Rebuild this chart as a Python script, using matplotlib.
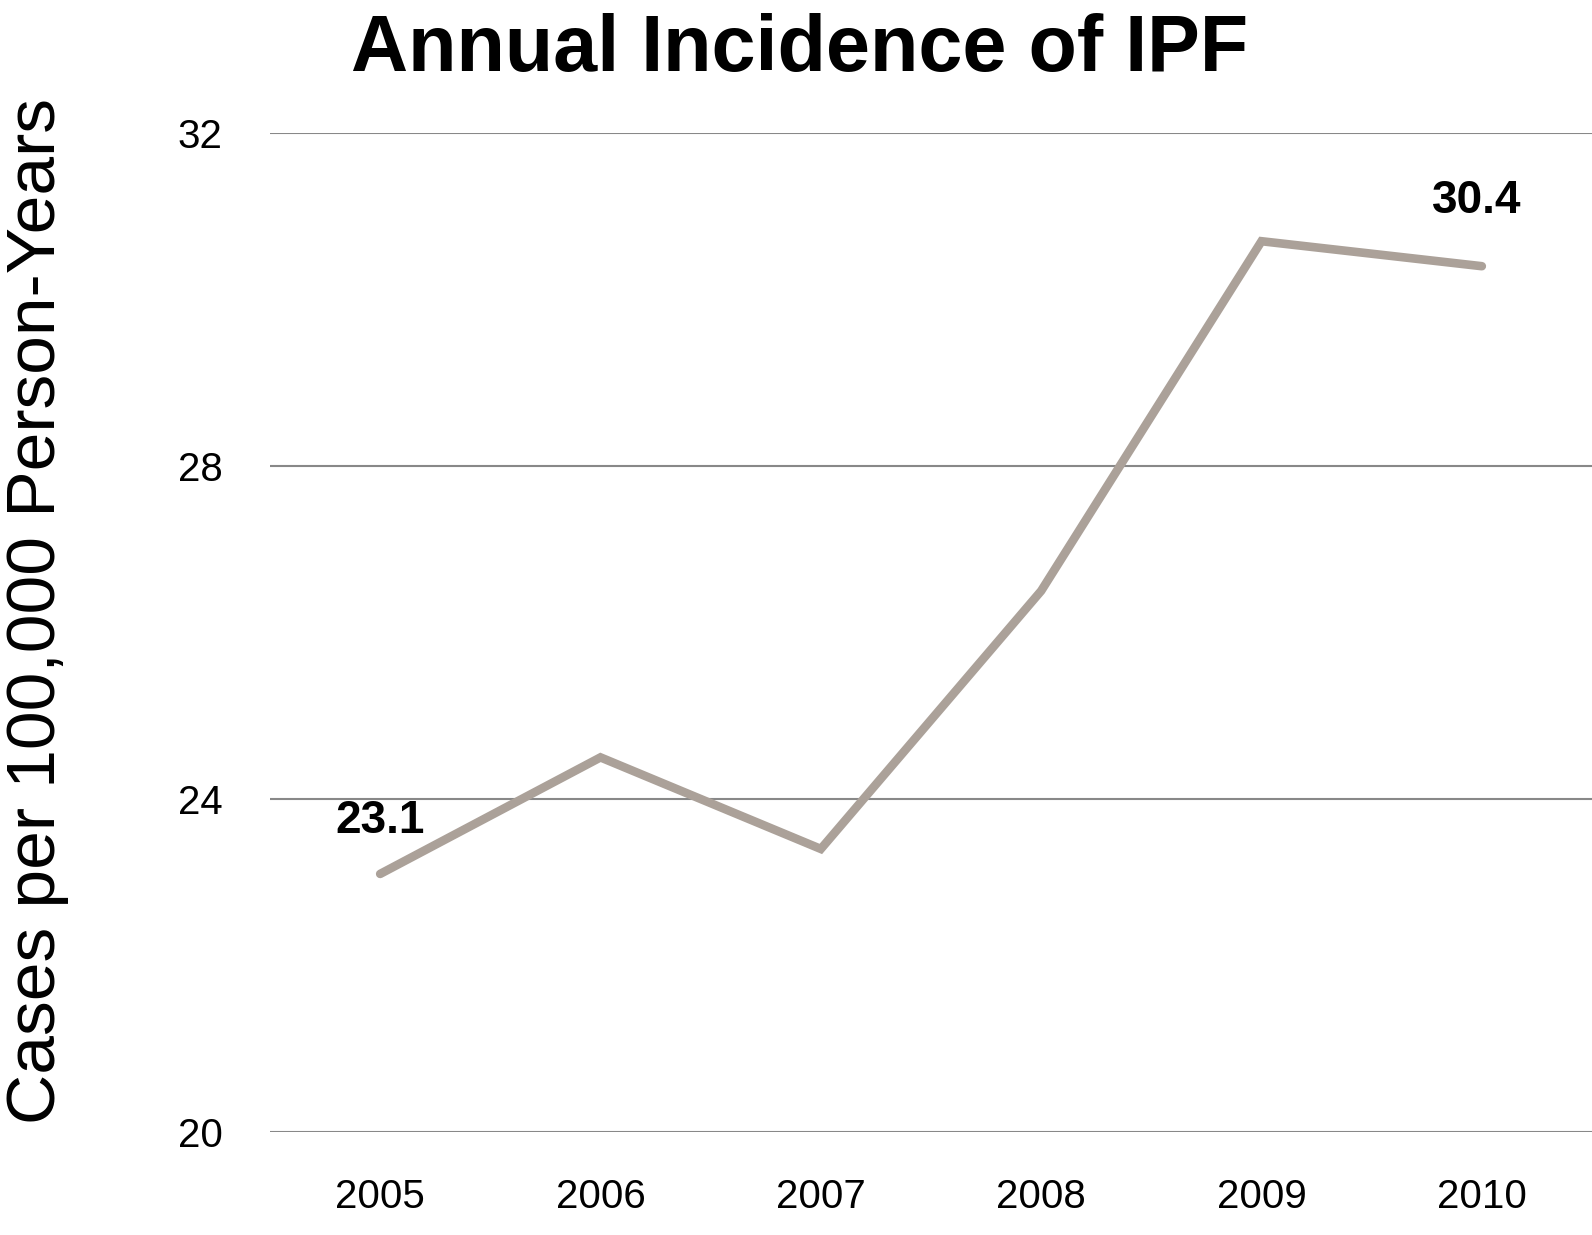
import matplotlib
matplotlib.use("Agg")
import matplotlib.pyplot as plt

years = ["2005", "2006", "2007", "2008", "2009", "2010"]
incidence = [23.1, 24.5, 23.4, 26.5, 30.7, 30.4]
y_ticks = [20, 24, 28, 32]
labelled = {0: "23.1", 5: "30.4"}

plt.rcParams['font.family'] = ['Liberation Sans', 'DejaVu Sans']

fig = plt.figure(figsize=(15.92, 12.35), dpi=100)
ax = fig.add_axes([270 / 1592, 1 - 1132 / 1235, 1 - 270 / 1592, (1132 - 133) / 1235])

x = list(range(len(years)))
ax.plot(x, incidence, color='#aba199', linewidth=6.2,
        solid_capstyle='round', solid_joinstyle='miter', clip_on=False, zorder=3)

# value labels on the first and last year only
for i, txt in labelled.items():
    off = 38 if i == 0 else 47
    ax.annotate(txt, (x[i], incidence[i]), xytext=(0 if i == 0 else -4, off),
                textcoords='offset points', ha='center', va='center',
                fontsize=33, fontweight='bold', color='black')

ax.set_xlim(-0.5, 5.5)
ax.set_ylim(20, 32)
ax.set_xticks(x)
ax.set_xticklabels(years)
ax.set_yticks(y_ticks)
ax.tick_params(axis='both', length=0, labelsize=29, colors='black')
ax.tick_params(axis='y', pad=34)
ax.tick_params(axis='x', pad=33)
ax.grid(axis='y', color='#888888', linewidth=1.5)
ax.set_axisbelow(True)
for s in ax.spines.values():
    s.set_visible(False)

fig.text(0.023, 1 - 611 / 1235, "Cases per 100,000 Person-Years", rotation=90,
         ha='center', va='center', fontsize=50, color='black')
fig.text(800 / 1592, 1 - 51 / 1235, "Annual Incidence of IPF", ha='center', va='center',
         fontsize=57, fontweight='bold', color='black')

fig.savefig("out.png", dpi=100)
